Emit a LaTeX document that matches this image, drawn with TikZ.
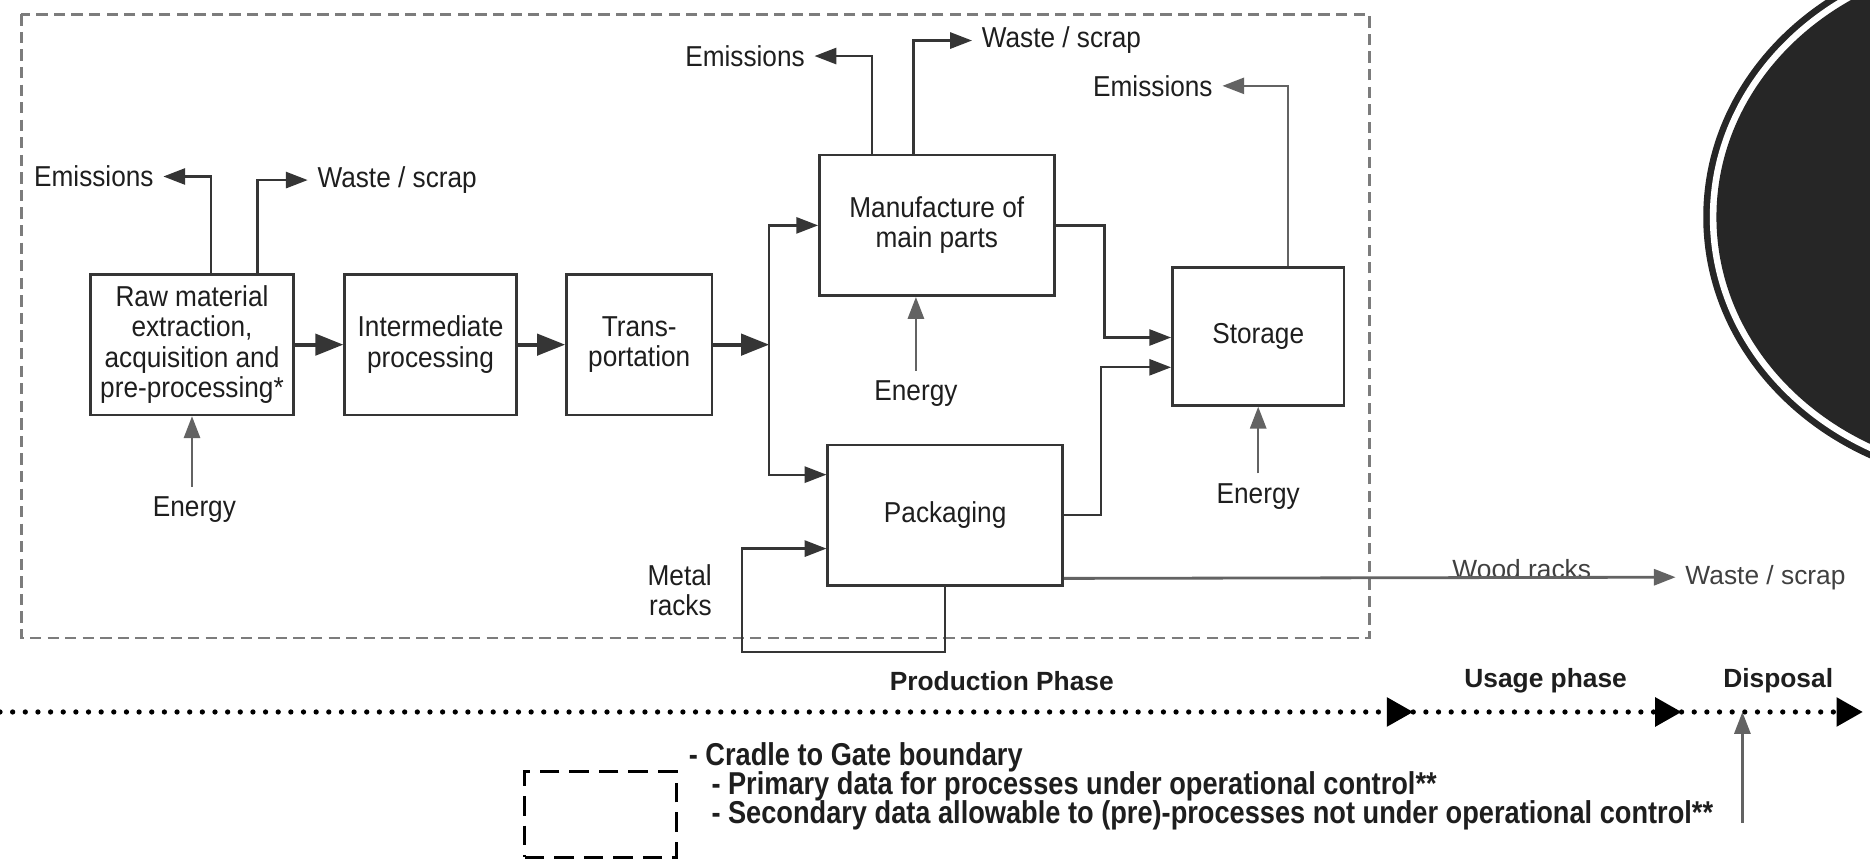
\documentclass[tikz,border=0pt]{standalone}
\usepackage{fontspec}
\setmainfont{Liberation Sans}[FakeStretch=0.91]
\newfontfamily\plainfont{Liberation Sans}
\newfontfamily\legfont{Liberation Sans}[FakeStretch=0.86]
\usetikzlibrary{arrows.meta}

\definecolor{lineC}{HTML}{353535}
\definecolor{greyC}{HTML}{636363}
\definecolor{bndC}{HTML}{7C7C7C}
\definecolor{txtC}{HTML}{1E1E1E}
\definecolor{discC}{HTML}{262626}
\def\u{0.011926cm}

\begin{document}
\begin{tikzpicture}[
  x=\u, y=-\u,
  font=\fontsize{8.2}{8.6}\selectfont,
  box/.style   = {draw=lineC, line width=0.75pt, align=center, text=txtC,
                  minimum height=1.407cm, inner sep=1pt},
  lbl/.style   = {text=txtC, inner sep=2.6pt},
  wlbl/.style  = {lbl, font=\plainfont\fontsize{7.5}{9}\selectfont, text=black!75},
  phase/.style = {text=txtC, font=\plainfont\bfseries\fontsize{7.5}{9}\selectfont},
  leg/.style   = {text=txtC, anchor=west, inner sep=0pt,
                  font=\legfont\bfseries\fontsize{9}{10}\selectfont},
  ar/.style    = {-{Triangle[length=6.2pt,width=4.6pt]}, draw=lineC, line width=0.65pt},
  arB/.style   = {-{Triangle[length=8pt,width=6pt]}, draw=lineC, line width=1.2pt},
  arG/.style   = {ar, draw=greyC},
  tl/.style    = {-{Triangle[length=7.5pt,width=8pt]}, draw=black, line width=1.5pt,
                  line cap=round, dash pattern=on 0pt off 3.6pt},
]
\useasboundingbox (0,0) rectangle (1568,725);

% ---- slide decoration ------------------------------------------------------
\begin{scope}
  \clip (0,0) rectangle (1568,725);
  \fill[discC] (1680,182) ellipse [x radius=3.005cm, y radius=2.695cm];
  \fill[white] (1680,182) ellipse [x radius=2.939cm, y radius=2.629cm];
  \fill[discC] (1680,182) ellipse [x radius=2.873cm, y radius=2.563cm];
\end{scope}

% ---- cradle to gate boundary -----------------------------------------------
\draw[bndC, line width=0.8pt, dash pattern=on 3.2pt off 1.8pt] (18,12) rectangle (1148,535);

% ---- process chain ---------------------------------------------------------
\node[box, minimum width=2.027cm] (raw)   at (161,289)   {Raw material\\extraction,\\acquisition and\\pre-processing*};
\node[box, minimum width=1.717cm] (inter) at (361,289)   {Intermediate\\processing};
\node[box, minimum width=1.455cm] (trans) at (536,289)   {Trans-\\portation};
\node[box, minimum width=2.349cm] (manuf) at (785.5,189) {Manufacture of\\main parts};
\node[box, minimum width=2.349cm] (pack)  at (792.5,432) {Packaging};
\node[box, minimum width=1.717cm, minimum height=1.383cm] (store) at (1055,282) {Storage};
\coordinate (jn) at (645,289);

\draw[arB] (raw) -- (inter);
\draw[arB] (inter) -- (trans);
\draw[arB] (trans) -- (jn);
\draw[ar] (jn) |- (manuf.west);
\draw[ar] (jn) |- ([yshift=34*\u]pack.west);
\draw[ar] (manuf.east) -- ++(41,0) |- ([yshift=-1*\u]store.west);
\draw[ar] (pack.east) -- ++(31,0) |- ([yshift=-26*\u]store.west);

% ---- inputs and outputs ----------------------------------------------------
\node[lbl, anchor=east] (em1) at (137,148) {Emissions};
\node[lbl, anchor=west] (ws1) at (258,151) {Waste / scrap};
\node[lbl] (en1) at (163,427) {Energy};
\draw[ar] ([xshift=16*\u]raw.north) |- (em1.east);
\draw[ar] ([xshift=55*\u]raw.north) |- (ws1.west);
\draw[arG] (en1.north -| raw.south) -- (raw.south);

\node[lbl, anchor=east] (em2) at (683,47) {Emissions};
\node[lbl, anchor=west] (ws2) at (815,34) {Waste / scrap};
\node[lbl] (en2) at (768,330) {Energy};
\draw[ar] ([xshift=-54.5*\u]manuf.north) |- (em2.east);
\draw[ar] ([xshift=-19.5*\u]manuf.north) |- (ws2.west);
\draw[arG] (en2.north) -- (en2.north |- manuf.south);

\node[lbl, anchor=east] (em3) at (1025,72) {Emissions};
\node[lbl] (en3) at (1055,416) {Energy};
\draw[arG] ([xshift=25*\u]store.north) |- (em3.east);
\draw[arG] (en3.north) -- (en3.north |- store.south);

\node[lbl, align=right, anchor=east] (metal) at (605,495) {Metal\\racks};
\coordinate (loop) at (622,547);
\draw[ar] (pack.south) |- (loop) |- ([yshift=-28*\u]pack.west);

\node[wlbl] (wood) at (1276,477) {Wood racks};
\node[wlbl, anchor=west] (ws3) at (1405,484) {Waste / scrap};
\draw[arG, line width=0.8pt] ([yshift=-53*\u]pack.east) -- (ws3.west);

% ---- life cycle phases -----------------------------------------------------
\coordinate (t0) at (0,597);
\coordinate (t1) at (1185,597);
\coordinate (t2) at (1410,597);
\coordinate (t3) at (1562,597);
\draw[tl] (t0) -- (t1);
\draw[tl] (t1) -- (t2);
\draw[tl] (t2) -- (t3);

\node[phase] (prod) at (840,571)  {Production Phase};
\node[phase] (use)  at (1296,571) {Usage phase};
\node[phase] (disp) at (1491,571) {Disposal};

\coordinate (dp) at (1461,690);
\draw[arG] (dp) -- (dp |- t2);

% ---- legend ----------------------------------------------------------------
\node[draw=black, line width=0.8pt, dash pattern=on 5.6pt off 2.8pt,
      minimum width=1.515cm, minimum height=0.859cm] (legbox) at (503.5,683) {};
\node[leg] (lg1) at (577,635) {- Cradle to Gate boundary};
\node[leg] (lg2) at (596,659) {- Primary data for processes under operational control**};
\node[leg] (lg3) at (596,684) {- Secondary data allowable to (pre)-processes not under operational control**};

\end{tikzpicture}
\end{document}
